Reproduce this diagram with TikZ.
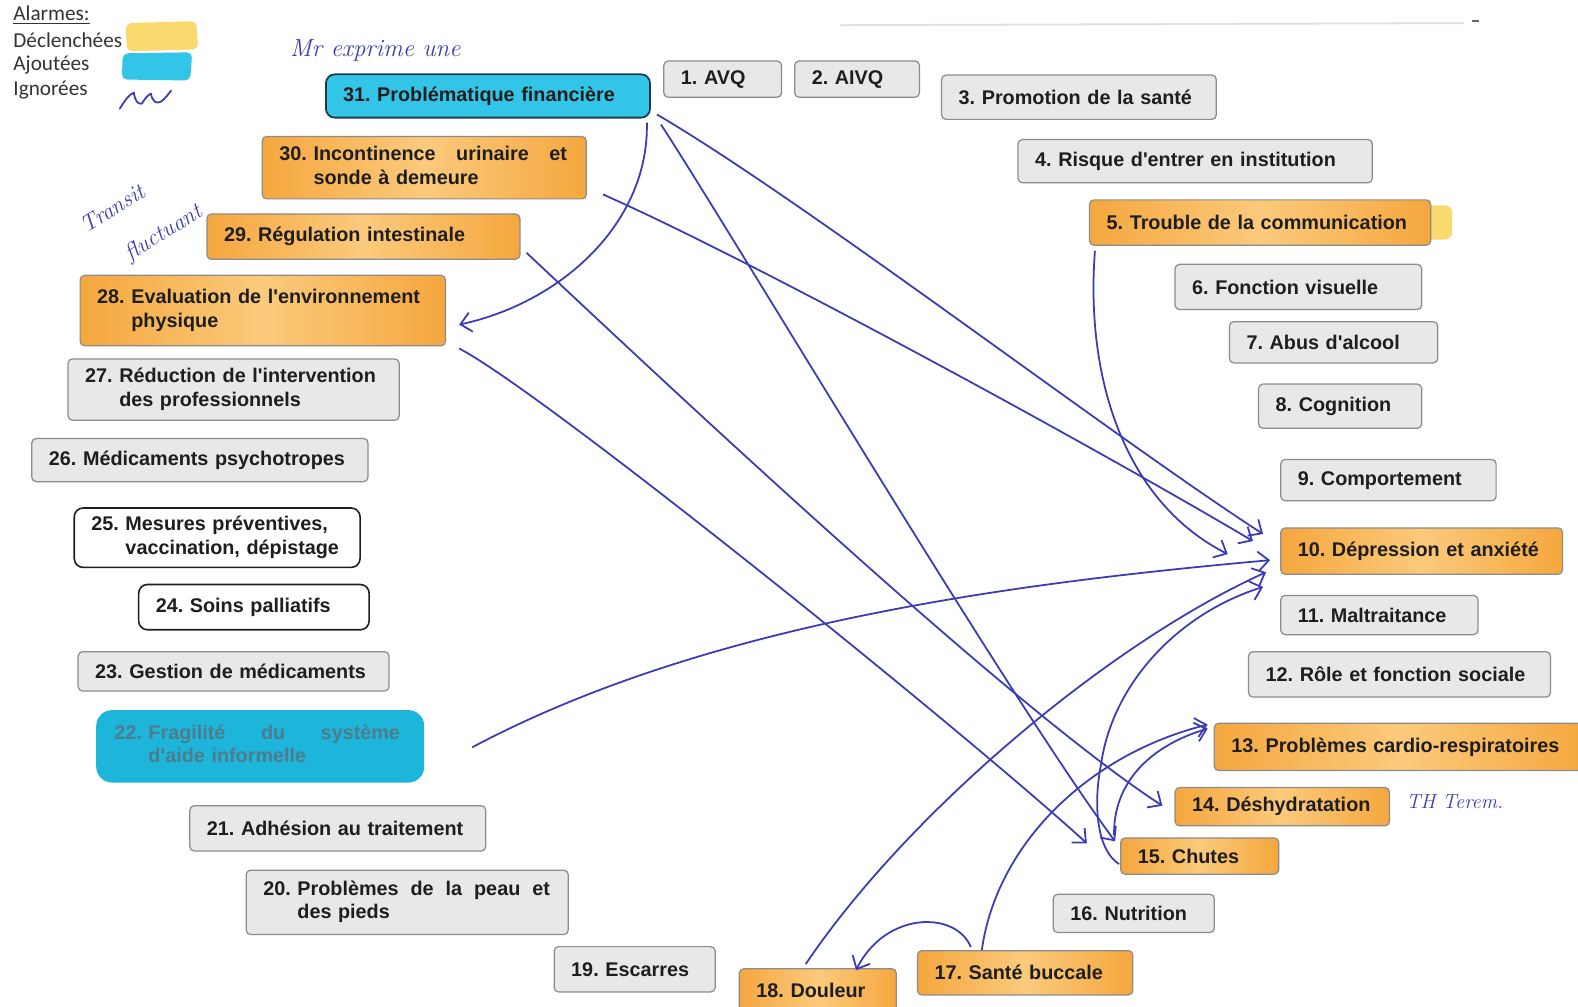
\documentclass[tikz,border=0pt]{standalone}
\usepackage{fontspec}
\usetikzlibrary{arrows.meta,calc}
\newfontfamily\boxfont{Liberation Sans}
\newfontfamily\legfont{Carlito}
\definecolor{txt}{HTML}{1E1E1E}
\definecolor{boxgrey}{HTML}{E8E8E8}
\definecolor{boxedge}{HTML}{8C8C8C}
\definecolor{orL}{HTML}{F5A73E}
\definecolor{orM}{HTML}{FBCA7C}
\definecolor{cyanbox}{HTML}{33C5E7}
\definecolor{cyanedge}{HTML}{1C3C48}
\definecolor{marker}{HTML}{1DB5DA}
\definecolor{markertxt}{HTML}{4F7C8C}
\definecolor{ylw}{HTML}{FAD96E}
\definecolor{pen}{HTML}{3B3BB4}
% number + hanging text lines
\newcommand\hng[2]{\begin{tabular}{@{}l@{\ }l@{}}#1&#2\end{tabular}}
% a first line spread to a given width
\newcommand\spread[2]{\hbox to #1{#2}}

\begin{document}
\begin{tikzpicture}[x=0.02cm,y=-0.02cm,
  box/.style={font=\boxfont\bfseries\fontsize{11.2}{13.4}\selectfont\frenchspacing, text=txt,
    inner xsep=0.34cm, inner ysep=0pt, align=left, anchor=north west,
    line width=0.7pt, rounded corners=2.5pt},
  sz/.style 2 args={/utils/exec={\pgfmathsetmacro\bxw{#1*0.02-0.68}},
    text width/.expanded={\bxw cm}, minimum height=#2*0.02cm},
  gbox/.style={box, fill=boxgrey, draw=boxedge},
  obox/.style={box, draw=boxedge, left color=orL, right color=orL, middle color=orM},
  wbox/.style={box, fill=white, draw=txt, line width=0.9pt, rounded corners=5pt},
  cbox/.style={box, fill=cyanbox, draw=cyanedge, line width=1pt, rounded corners=5pt},
  link/.style={draw=pen, line width=1pt, -{Straight Barb[length=6pt,width=11pt]}},
  hand/.style={text=pen, inner sep=0pt, font=\itshape\fontsize{#1}{#1}\selectfont},
  leg/.style={font=\legfont\fontsize{12}{14}\selectfont, text=black!80, anchor=west, inner sep=0pt},
]
\fill[white] (0,0) rectangle (1568,1000);
\useasboundingbox (0,0) rectangle (1568,1000);

% faint rule along the top
\draw[black!12, line width=1pt] (835,25) -- (1455,23);
\draw[black!60, line width=0.8pt] (1463,21) -- (1470,21);

% legend
\node[leg] (lg0) at (13,15) {\underline{Alarmes:}};
\node[leg] (lg1) at (13,40) {Déclenchées};
\node[leg] (lg2) at (13,65) {Ajoutées};
\node[leg] (lg3) at (13,90) {Ignorées};
\fill[ylw, rounded corners=3pt] (125,23) -- (195,21) -- (197,49) -- (126,51) -- cycle;
\fill[cyanbox, rounded corners=3pt] (122,53) -- (191,52) -- (189,80) -- (121,79) -- cycle;
\draw[pen, line width=1pt, line cap=round, line join=round]
  (119,108) .. controls (124,100) and (128,94) .. (133,92)
  .. controls (134,100) and (137,104) .. (141,103)
  .. controls (145,96) and (148,94) .. (150,93)
  .. controls (151,100) and (155,104) .. (160,101)
  .. controls (164,98) and (167,94) .. (170,90);

% top row and right column
\node[gbox,sz={117}{36}] (n1) at (659,60) {\mbox{1. AVQ}};
\node[gbox,sz={124}{36}] (n2) at (789,60) {\mbox{2. AIVQ}};
\node[gbox,sz={273}{44}] (n3) at (935,74) {\mbox{3. Promotion de la santé}};
\node[gbox,sz={352}{43}] (n4) at (1011,138) {\mbox{4. Risque d'entrer en institution}};
\fill[ylw, rounded corners=4pt] (1400,204) rectangle (1443,238);
\node[obox,sz={339}{45}] (n5) at (1082,198) {\mbox{5. Trouble de la communication}};
\node[gbox,sz={245}{45}] (n6) at (1167,262) {\mbox{6. Fonction visuelle}};
\node[gbox,sz={207}{41}] (n7) at (1221,319) {\mbox{7. Abus d'alcool}};
\node[gbox,sz={162}{44}] (n8) at (1250,381) {\mbox{8. Cognition}};
\node[gbox,sz={214}{41}] (n9) at (1272,456) {\mbox{9. Comportement}};
\node[obox,sz={280}{46}] (n10) at (1272,524) {\mbox{10. Dépression et anxiété}};
\node[gbox,sz={196}{39}] (n11) at (1272,591) {\mbox{11. Maltraitance}};
\node[gbox,sz={300}{45}] (n12) at (1240,647) {\mbox{12. Rôle et fonction sociale}};
\node[obox,sz={370}{47}] (n13) at (1206,718) {\mbox{13. Problèmes cardio-respiratoires}};
\node[obox,sz={213}{38}] (n14) at (1167,782) {\mbox{14. Déshydratation}};
\node[obox,sz={157}{36}] (n15) at (1113,832) {\mbox{15. Chutes}};
\node[gbox,sz={160}{38}] (n16) at (1046,888) {\mbox{16. Nutrition}};
\node[obox,sz={214}{44}] (n17) at (911,944) {\mbox{17. Santé buccale}};
\node[obox,sz={156}{44}] (n18) at (734,962) {\mbox{18. Douleur}};

% bottom row and left column
\node[gbox,sz={160}{45}] (n19) at (550,940) {\mbox{19. Escarres}};
\node[gbox,sz={320}{64}] (n20) at (244,864) {\hng{20.}{\spread{5.02cm}{Problèmes\hfill de\hfill la\hfill peau\hfill et}\\&des pieds}};
\node[gbox,sz={294}{45}] (n21) at (188,800) {\mbox{21. Adhésion au traitement}};
\node[box, fill=marker, rounded corners=9pt, text=markertxt, inner xsep=0.36cm,
      text width=5.8cm, minimum height=1.44cm] (n22) at (95,705)
      {\hng{22.}{\spread{5.0cm}{Fragilité\hfill du\hfill système}\\&d'aide informelle}};
\node[gbox,sz={309}{39}] (n23) at (77,647) {\mbox{23. Gestion de médicaments}};
\node[wbox,sz={229}{45}] (n24) at (137,580) {\mbox{24. Soins palliatifs}};
\node[wbox,sz={284}{59}] (n25) at (73,504) {\hng{25.}{Mesures préventives,\\&vaccination, dépistage}};
\node[gbox,sz={334}{43}] (n26) at (31,435) {\mbox{26. Médicaments psychotropes}};
\node[gbox,sz={329}{61}] (n27) at (67,356) {\hng{27.}{Réduction de l'intervention\\&des professionnels}};
\node[obox,sz={363}{70}] (n28) at (79,273) {\hng{28.}{Evaluation de l'environnement\\&physique}};
\node[obox,sz={311}{45}] (n29) at (205,212) {\mbox{29. Régulation intestinale}};
\node[obox,sz={322}{62}] (n30) at (260,135) {\hng{30.}{\spread{5.04cm}{Incontinence\hfill urinaire\hfill et}\\&sonde à demeure}};
\node[cbox,sz={322}{43}] (n31) at (323,73) {\mbox{31. Problématique financière}};

% handwritten notes
\node[hand=14, anchor=west] (h1) at (288,50) {Mr exprime une};
\node[hand=13, rotate=32] (h2a) at (112,207) {Transit};
\node[hand=13, rotate=32] (h2b) at (163,232) {fluctuant};
\node[hand=11.5, anchor=west] (h3) at (1397,797) {TH Terem.};

% hand-drawn links
\draw[link] ($(n31.south east)+(-4,4)$) .. controls (645,220) and (560,300) .. ($(n28.east)+(13,14)$);
\draw[link] ($(n31.south east)+(6,-4)$) .. controls (800,200) and (1100,430) .. ($(n10.west)+(-17,-17)$);
\draw[link] ($(n31.south east)+(10,6)$) .. controls (720,220) and (1000,690) .. ($(n15.north west)+(-5,4)$);
\draw[link] ($(n30.south east)+(16,-5)$) .. controls (750,260) and (1080,440) .. ($(n10.west)+(-27,-10)$);
\draw[link] ($(n29.south east)+(6,-7)$) .. controls (650,370) and (1000,700) .. ($(n14.west)+(-12,-1)$);
\draw[link] ($(n28.south east)+(13,2)$) .. controls (540,390) and (950,720) .. ($(n15.north west)+(-33,6)$);
\draw[link] ($(n22.east)+(47,1)$) .. controls (700,620) and (1000,580) .. ($(n10.west)+(-10,9)$);
\draw[link] ($(n5.south west)+(6,5)$) .. controls (1078,380) and (1120,500) .. ($(n10.west)+(-52,3)$);
\draw[link] ($(n18.north)+(-12,-4)$) .. controls (900,810) and (1100,640) .. ($(n10.west)+(-14,21)$);
\draw[link] ($(n17.north)+(-43,0)$) .. controls (990,840) and (1080,750) .. ($(n13.north west)+(-6,2)$);
\draw[link] ($(n17.north)+(-54,-3)$) .. controls (950,905) and (880,905) .. ($(n18.north)+(38,2)$);
\draw[link] ($(n15.west)+(-1,8)$) .. controls (1090,845) and (1086,800) .. (1094,760)
  .. controls (1105,680) and (1170,610) .. ($(n10.south west)+(-17,12)$);
\draw[link] ($(n15.north west)+(-6,-2)$) .. controls (1106,780) and (1140,742) .. ($(n13.north west)+(-6,6)$);
\end{tikzpicture}
\end{document}
